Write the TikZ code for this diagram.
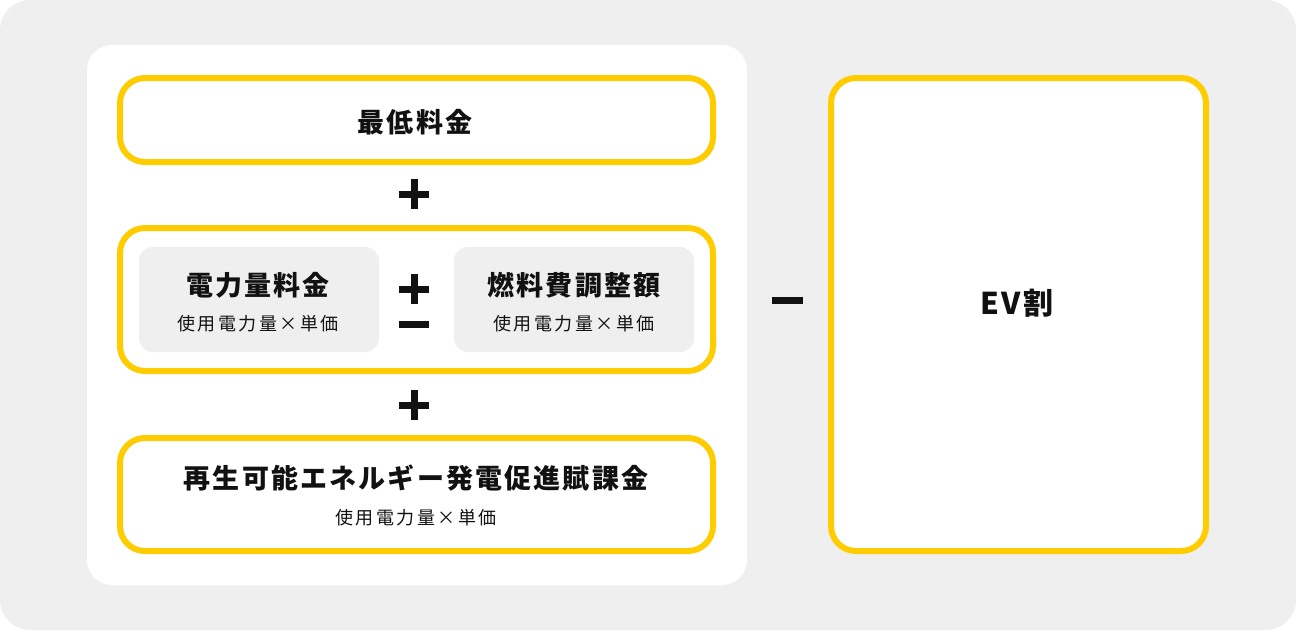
\documentclass[tikz,border=0pt]{standalone}
\usepackage{fontspec}
\newfontfamily\jpt{Noto Sans CJK JP}[LetterSpace=8]
\newfontfamily\jps{Noto Sans CJK JP}[LetterSpace=14]
\definecolor{bggray}{HTML}{EFEFEF}
\definecolor{ylw}{HTML}{FFCC00}
\definecolor{ink}{HTML}{111111}
\tikzset{
  ybox/.style={draw=ylw, line width=6pt, rounded corners=25pt, fill=white},
  gbox/.style={fill=bggray, rounded corners=14pt},
  ttl/.style={inner sep=0pt, text=ink, font=\jpt\bfseries\fontsize{27}{30}\selectfont},
  sub/.style={inner sep=0pt, text=ink, font=\jps\fontsize{18}{20}\selectfont},
  sign/.style={line width=7pt, ink}
}
\begin{document}
\begin{tikzpicture}[x=1pt,y=-1pt]
\useasboundingbox (0,0) rectangle (1296,630);
\fill[bggray, rounded corners=30pt] (0,0) rectangle (1296,630);
\fill[white, rounded corners=25pt] (87,45) rectangle (747,585);
% yellow boxes
\draw[ybox] (120,78) rectangle (713,162);
\draw[ybox] (120,228) rectangle (713,371);
\draw[ybox] (120,438) rectangle (713,551);
\draw[ybox] (831,78) rectangle (1206,551);
% gray inner boxes
\fill[gbox] (139,247) rectangle (379,352);
\fill[gbox] (454,247) rectangle (694,352);
% texts
\node[ttl] (base) at (415,122) {最低料金};
\node[ttl] (usage) at (258,285) {電力量料金};
\node[sub] (usagesub) at (258,324) {使用電力量×単価};
\node[ttl] (fuel) at (574,285) {燃料費調整額};
\node[sub] (fuelsub) at (574,324) {使用電力量×単価};
\node[ttl] (renew) at (416,478) {再生可能エネルギー発電促進賦課金};
\node[sub] (renewsub) at (416,518) {使用電力量×単価};
\node[ttl, font=\jpt\bfseries\fontsize{30}{32}\selectfont] (ev) at (1017,303) {EV割};
% signs
\draw[sign] (399,194) -- (429,194) (414,179) -- (414,209);
\draw[sign] (399,289) -- (429,289) (414,274) -- (414,304);
\draw[sign] (399,324) -- (429,324);
\draw[sign] (399,405) -- (429,405) (414,390) -- (414,420);
\draw[sign] (772,300) -- (803,300);
\end{tikzpicture}
\end{document}
